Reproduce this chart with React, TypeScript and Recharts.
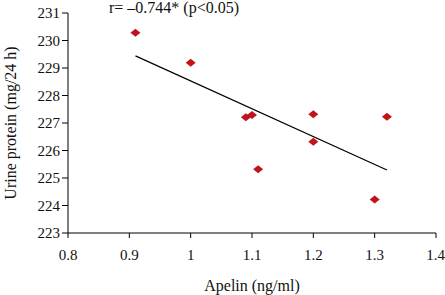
import React from 'react';
import { ScatterChart, Scatter, XAxis, YAxis, Label } from 'recharts';

const apelin = [0.91, 1.0, 1.09, 1.1, 1.2, 1.32, 1.2, 1.11, 1.3];
const urineProtein = [230.28, 229.19, 227.21, 227.29, 227.32, 227.23, 226.32, 225.32, 224.22];
const trendX = [0.91, 1.32];
const trendY = [229.44, 225.29];
const xTicks = [0.8, 0.9, 1.0, 1.1, 1.2, 1.3, 1.4];
const xTickLabels = ['0.8', '0.9', '1', '1.1', '1.2', '1.3', '1.4'];
const yTicks = [223, 224, 225, 226, 227, 228, 229, 230, 231];
const title = 'r= \u20130.744* (p<0.05)';

const points = apelin.map((x, i) => ({ x, y: urineProtein[i] }));
const trend = trendX.map((x, i) => ({ x, y: trendY[i] }));

const FONT = '"Liberation Serif", "DejaVu Serif", serif';
const RED = '#C0141C';

const Diamond = (props: any) => {
  const { cx, cy } = props;
  if (cx == null || cy == null) return null;
  const w = 5, h = 4;
  return (
    <polygon
      points={`${cx - w},${cy} ${cx},${cy - h} ${cx + w},${cy} ${cx},${cy + h}`}
      fill={RED}
    />
  );
};

export default function App() {
  return (
    <div style={{ position: 'absolute', left: 0, top: 0, width: 445, height: 295, background: '#fff' }}>
      <ScatterChart width={445} height={295} margin={{ top: 13, right: 9, bottom: 22, left: 0 }}>
        <XAxis
          type="number"
          dataKey="x"
          domain={[0.8, 1.4]}
          ticks={xTicks}
          tickFormatter={(v: number) => xTickLabels[xTicks.findIndex((t) => Math.abs(t - v) < 1e-9)] ?? String(v)}
          height={40}
          tickSize={5}
          tickMargin={11}
          axisLine={{ stroke: '#000', strokeWidth: 1 }}
          tickLine={{ stroke: '#000' }}
          tick={{ fill: '#111', fontSize: 15, fontFamily: FONT }}
          allowDataOverflow
        >
          <Label value="Apelin (ng/ml)" position="insideBottom" offset={-18} style={{ fill: '#111', fontSize: 16, fontFamily: FONT }} />
        </XAxis>
        <YAxis
          type="number"
          dataKey="y"
          domain={[223, 231]}
          ticks={yTicks}
          width={68}
          tickSize={6}
          tickMargin={2}
          axisLine={{ stroke: '#000', strokeWidth: 1 }}
          tickLine={{ stroke: '#000' }}
          tick={{ fill: '#111', fontSize: 15, fontFamily: FONT }}
          allowDataOverflow
        >
          <Label value="Urine protein (mg/24 h)" angle={-90} position="insideLeft" offset={10} style={{ fill: '#111', fontSize: 16, fontFamily: FONT, textAnchor: 'middle' }} />
        </YAxis>
        <Scatter data={trend} line={{ stroke: '#000', strokeWidth: 1.2 }} shape={() => null} isAnimationActive={false} />
        <Scatter data={points} shape={Diamond} isAnimationActive={false} />
      </ScatterChart>
      <div style={{ position: 'absolute', left: 109, top: -1, fontFamily: FONT, fontSize: 16, lineHeight: '18px', color: '#111', whiteSpace: 'nowrap' }}>
        {title}
      </div>
    </div>
  );
}
